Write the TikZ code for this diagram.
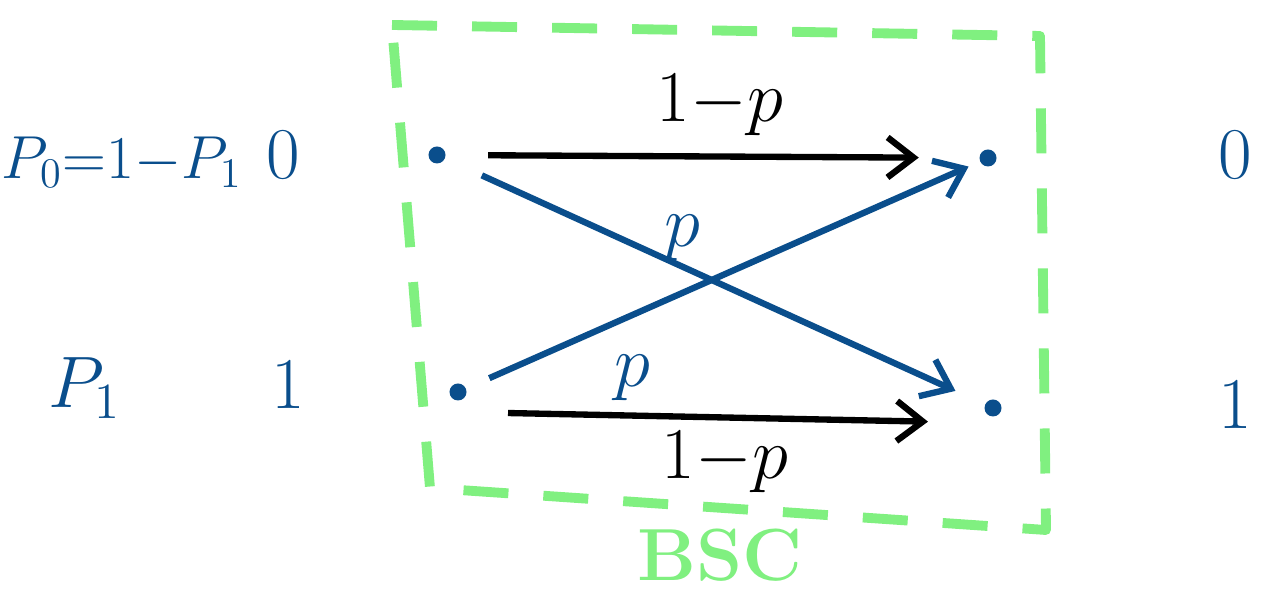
\documentclass[tikz,border=0pt]{standalone}
\usetikzlibrary{arrows.meta}
\definecolor{inkblue}{RGB}{10,78,140}
\definecolor{boxgreen}{RGB}{128,240,128}
\begin{document}
\begin{tikzpicture}[x=0.01cm,y=-0.01cm,
  lbl/.style={font=\fontsize{21}{25}\selectfont},
  bluelbl/.style={lbl,text=inkblue},
  dot/.style={circle,fill=inkblue,inner sep=0pt,minimum size=0.17cm},
  blk/.style={line width=1.8pt,black,-{Straight Barb[length=2.6mm,width=4mm,line width=1.8pt]}},
  blu/.style={line width=1.8pt,inkblue,-{Straight Barb[length=2.6mm,width=4mm,line width=1.8pt]}},
  frame/.style={line width=2.8pt,boxgreen,dash pattern=on 0.45cm off 0.35cm,line join=round}]
\useasboundingbox (0,0) rectangle (1269,598);
% frame
\draw[frame] (392,25) -- (1040,36) -- (1046,530) -- (430,488) -- cycle;
\node[lbl,text=boxgreen,fill=white,inner sep=1pt,font=\fontsize{21}{25}\selectfont\bfseries] (bsc) at (720,555) {BSC};
% dots
\node[dot] (x0) at (437,155) {};
\node[dot] (x1) at (458,392) {};
\node[dot] (y0) at (988,158) {};
\node[dot] (y1) at (993,408) {};
% arrows
\draw[blk,shorten <=0.42cm,shorten >=0.6cm] (x0) -- (y0);
\draw[blu,shorten <=0.4cm,shorten >=0.32cm] (x0) -- (y1);
\draw[blu,shorten <=0.25cm,shorten >=0.12cm] (x1) -- (y0);
\draw[blk,shorten <=0.5cm,shorten >=0.65cm] ([yshift=-0.2cm]x1.center) -- ([yshift=-0.15cm]y1.center);
% arrow labels
\node[lbl] (l00) at (720,105) {$1{-}p$};
\node[bluelbl] (l01) at (682,238) {$p$};
\node[bluelbl] (l10) at (632,378) {$p$};
\node[lbl] (l11) at (725,462) {$1{-}p$};
% left labels
\node[bluelbl,font=\fontsize{17}{21}\selectfont] (p0) at (122,162) {$P_0{=}1{-}P_1$};
\node[bluelbl] (in0) at (283,155) {$0$};
\node[bluelbl] (p1) at (85,388) {$P_1$};
\node[bluelbl] (in1) at (288,385) {$1$};
% right labels
\node[bluelbl] (out0) at (1235,155) {$0$};
\node[bluelbl] (out1) at (1235,405) {$1$};
\end{tikzpicture}
\end{document}
